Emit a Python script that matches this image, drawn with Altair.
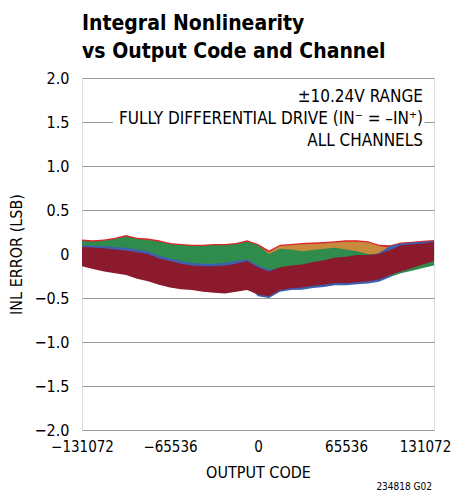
import altair as alt
import pandas as pd

# ---------------- data ----------------
codes = [-131072, -122880, -114688, -106496, -98304, -90112, -81920, -73728,
         -65536, -57344, -49152, -40960, -32768, -24576, -16384, -8192, 0,
         8192, 16384, 24576, 32768, 40960, 49152, 57344, 65536, 73728, 81920,
         90112, 98304, 106496, 114688, 122880, 131072]

red_top = [0.165, 0.155, 0.165, 0.185, 0.215, 0.185, 0.175, 0.155, 0.125, 0.115, 0.105,
           0.105, 0.115, 0.115, 0.125, 0.155, 0.115, 0.04, 0.105, 0.115, 0.125, 0.13,
           0.135, 0.145, 0.155, 0.155, 0.145, 0.105, 0.1, 0.13, 0.14, 0.15, 0.16]
red_bot = [-0.09, -0.12, -0.15, -0.17, -0.19, -0.23, -0.26, -0.30, -0.33, -0.35, -0.36,
           -0.38, -0.39, -0.40, -0.38, -0.36, -0.41, -0.43, -0.36, -0.34, -0.33, -0.31,
           -0.30, -0.28, -0.28, -0.27, -0.26, -0.24, -0.19, -0.15, -0.11, -0.07, -0.03]

orange_top = [0.12, 0.11, 0.12, 0.14, 0.17, 0.14, 0.13, 0.11, 0.08, 0.07, 0.06,
              0.06, 0.07, 0.07, 0.08, 0.11, 0.09, 0.02, 0.09, 0.10, 0.11, 0.115,
              0.12, 0.13, 0.14, 0.14, 0.13, 0.09, 0.07, 0.08, 0.10, 0.11, 0.12]
orange_bot = [-0.09, -0.12, -0.15, -0.17, -0.19, -0.23, -0.26, -0.30, -0.33, -0.35, -0.36,
              -0.38, -0.39, -0.40, -0.38, -0.36, -0.41, -0.43, -0.36, -0.34, -0.33, -0.31,
              -0.30, -0.28, -0.28, -0.27, -0.26, -0.24, -0.19, -0.15, -0.11, -0.07, -0.03]

green_top = [0.15, 0.14, 0.15, 0.17, 0.20, 0.17, 0.16, 0.14, 0.11, 0.10, 0.09,
             0.09, 0.10, 0.10, 0.11, 0.14, 0.10, 0.0, 0.06, 0.05, 0.03, 0.045,
             0.06, 0.07, 0.05, 0.03, 0.0, -0.01, 0.03, 0.07, 0.08, 0.09, 0.10]
green_bot = [-0.09, -0.12, -0.15, -0.17, -0.19, -0.23, -0.26, -0.30, -0.33, -0.35, -0.36,
             -0.38, -0.39, -0.40, -0.38, -0.36, -0.41, -0.43, -0.36, -0.34, -0.33, -0.31,
             -0.30, -0.28, -0.28, -0.27, -0.26, -0.24, -0.26, -0.22, -0.19, -0.16, -0.13]

blue_top = [0.10, 0.095, 0.09, 0.08, 0.07, 0.05, 0.03, -0.02, -0.05, -0.08, -0.10,
            -0.11, -0.11, -0.10, -0.08, -0.06, -0.13, -0.18, -0.16, -0.14, -0.13, -0.10,
            -0.08, -0.05, -0.04, -0.02, -0.02, 0.01, 0.09, 0.12, 0.13, 0.14, 0.15]
blue_bot = [-0.09, -0.12, -0.15, -0.17, -0.19, -0.23, -0.26, -0.30, -0.33, -0.35, -0.36,
            -0.38, -0.39, -0.40, -0.38, -0.36, -0.48, -0.50, -0.43, -0.41, -0.405, -0.385,
            -0.375, -0.355, -0.355, -0.345, -0.335, -0.315, -0.265, -0.15, -0.11, -0.07, -0.03]

maroon_top = [0.08, 0.075, 0.065, 0.05, 0.04, 0.02, 0.0, -0.05, -0.08, -0.11, -0.13,
              -0.14, -0.14, -0.13, -0.11, -0.08, -0.15, -0.20, -0.15, -0.13, -0.12, -0.09,
              -0.07, -0.04, -0.03, -0.01, -0.01, 0.0, 0.045, 0.10, 0.11, 0.12, 0.14]
maroon_bot = [-0.14, -0.17, -0.20, -0.22, -0.24, -0.28, -0.31, -0.35, -0.38, -0.40, -0.41,
              -0.43, -0.44, -0.45, -0.43, -0.41, -0.46, -0.48, -0.41, -0.39, -0.38, -0.36,
              -0.35, -0.33, -0.33, -0.32, -0.31, -0.29, -0.24, -0.20, -0.16, -0.12, -0.08]

channel_names = ["CH A", "CH B", "CH C", "CH D", "CH E"]
channel_colors = ["#dc2529", "#c98a3d", "#2f8c4c", "#3e5fae", "#8b1a2c"]

x_ticks = [-131072, -65536, 0, 65536, 131072]
y_ticks = [-2.0, -1.5, -1.0, -0.5, 0.0, 0.5, 1.0, 1.5, 2.0]

title_lines = ["Integral Nonlinearity", "vs Output Code and Channel"]
note_lines = ["±10.24V RANGE", "FULLY DIFFERENTIAL DRIVE (IN⁻ = –IN⁺)", "ALL CHANNELS"]
note_y = [1.78, 1.53, 1.28]
note_x = [122880, 122880, 122880]
footnote = "234818 G02"

# ---------------- styling ----------------
FONT = "Liberation Sans Narrow, DejaVu Sans Condensed, Roboto, sans-serif"
mask_box = pd.DataFrame({"x": [-108000], "x2": [124000], "y": [1.17], "y2": [1.95]})

x_scale = alt.Scale(domain=[-131072, 131072], nice=False, zero=False)
y_scale = alt.Scale(domain=[-2, 2], nice=False, zero=False)

x_axis = alt.Axis(values=x_ticks, format="d",
                  labelExpr="replace(datum.label, '-', '−')",
                  labelOffset={"condition": {"test": "datum.value == 131072", "value": -9},
                               "value": 0},
                  title="OUTPUT CODE", grid=False, ticks=False, domain=False,
                  labelFontSize=15, labelPadding=9, titleFontSize=16,
                  titleFontWeight="normal", titlePadding=10,
                  labelFont=FONT, titleFont=FONT, labelColor="black",
                  titleColor="black", labelFlush=False)
y_axis = alt.Axis(values=y_ticks,
                  labelExpr="datum.value == 0 ? '0' : replace(format(datum.value, '.1f'), '-', '−')",
                  title="INL ERROR (LSB)", grid=True, gridColor="#9a9a9a",
                  gridWidth=1.2, ticks=False, domain=False,
                  labelFontSize=16, labelPadding=13, titleFontSize=16,
                  titleFontWeight="normal", titlePadding=10,
                  labelFont=FONT, titleFont=FONT, labelColor="black",
                  titleColor="black")

# ---------------- layers ----------------
mask = alt.Chart(mask_box).mark_rect(color="white").encode(
    x=alt.X("x:Q", scale=x_scale, axis=x_axis),
    x2="x2:Q",
    y=alt.Y("y:Q", scale=y_scale, axis=y_axis),
    y2="y2:Q",
)

tops = [red_top, orange_top, green_top, blue_top, maroon_top]
bots = [red_bot, orange_bot, green_bot, blue_bot, maroon_bot]

band_layers = []
for name, color, top, bot in zip(channel_names, channel_colors, tops, bots):
    d = pd.DataFrame({"code": codes, "top": top, "bot": bot, "channel": name})
    band_layers.append(
        alt.Chart(d).mark_area(color=color, interpolate="linear", opacity=1).encode(
            x=alt.X("code:Q", scale=x_scale, axis=x_axis),
            y=alt.Y("top:Q", scale=y_scale, axis=y_axis),
            y2="bot:Q",
        )
    )

notes_df = pd.DataFrame({"x": note_x, "y": note_y, "text": note_lines})
notes = alt.Chart(notes_df).mark_text(
    align="right", baseline="middle", font=FONT, fontSize=17, color="black"
).encode(
    x=alt.X("x:Q", scale=x_scale, axis=x_axis),
    y=alt.Y("y:Q", scale=y_scale, axis=y_axis),
    text="text:N",
)

foot = alt.Chart(pd.DataFrame({"t": [footnote]})).mark_text(
    align="right", baseline="bottom", font=FONT, fontSize=10, color="black"
).encode(x=alt.value(350), y=alt.value(414), text="t:N")

chart = alt.layer(mask, *band_layers, notes, foot).properties(
    width=352,
    height=352,
    autosize=alt.AutoSizeParams(type="none"),
    padding={"left": 74, "top": 70, "right": 19, "bottom": 63},
    title=alt.TitleParams(title_lines, anchor="start", font=FONT, fontSize=21,
                          fontWeight="bold", lineHeight=28, offset=8,
                          color="black", frame="group"),
).configure_view(stroke="black", strokeWidth=2).configure(background="white")

chart.save("out.html", embed_options={"renderer": "svg", "actions": False})
